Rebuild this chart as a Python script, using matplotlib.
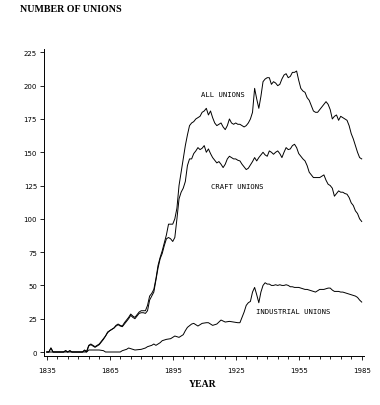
import numpy as np
import matplotlib
matplotlib.use("Agg")
import matplotlib.pyplot as plt
from matplotlib.ticker import MultipleLocator


# Data (year, number of unions)
all_years = [1835, 1836, 1837, 1838, 1843, 1844, 1845, 1846, 1847, 1852, 1853, 1854,
             1855, 1856, 1857, 1858, 1859, 1860, 1861, 1862, 1863, 1864, 1865, 1866,
             1867, 1868, 1869, 1870, 1871, 1872, 1873, 1874, 1875, 1876, 1877, 1878,
             1879, 1880, 1881, 1882, 1883, 1884, 1885, 1886, 1887, 1888, 1889, 1890,
             1891, 1892, 1893, 1894, 1895, 1896, 1897, 1898, 1899, 1900, 1901, 1902,
             1903, 1904, 1905, 1906, 1907, 1908, 1909, 1910, 1911, 1912, 1913, 1914,
             1915, 1916, 1917, 1918, 1919, 1920, 1921, 1922, 1923, 1924, 1925, 1926,
             1927, 1928, 1929, 1930, 1931, 1932, 1933, 1934, 1935, 1936, 1937, 1938,
             1939, 1940, 1941, 1942, 1943, 1944, 1945, 1946, 1947, 1948, 1949, 1950,
             1951, 1952, 1953, 1954, 1955, 1956, 1957, 1958, 1959, 1960, 1961, 1962,
             1963, 1964, 1965, 1966, 1967, 1968, 1969, 1970, 1971, 1972, 1973, 1974,
             1975, 1976, 1977, 1978, 1979, 1980, 1981, 1982, 1983, 1984, 1985]
all_unions = [0, 0, 3, 0, 0, 1, 0, 1, 0, 0, 1.5, 0.5,
              5, 6, 5, 4, 5, 6, 8, 10, 12, 15, 16, 17,
              18, 20, 21, 20, 19.5, 22, 24, 26, 28.5, 27, 26, 28,
              30, 31, 31, 31, 35, 42, 44, 47, 55, 65, 71, 76,
              82, 88, 96, 96, 96, 100, 108, 125, 135, 145, 155, 163,
              170, 172, 173, 175, 176, 177, 180, 181, 183, 178, 181, 176,
              172, 170, 171, 172, 169, 167, 170, 175, 172, 171, 172, 171,
              171, 170, 169, 170, 172, 175, 180, 198, 190, 183, 192, 203,
              205, 206, 206, 201, 203, 202, 200, 201, 205, 208, 209, 206,
              207, 210, 210, 211, 204, 198, 196, 195, 191, 189, 185, 181,
              180, 180, 182, 184, 186, 188, 186, 182, 175, 177, 178, 174,
              177, 176, 175, 174, 170, 164, 160, 155, 150, 146, 145]

craft_unions = [0, 0, 3, 0, 0, 1, 0, 1, 0, 0, 1, 0,
                4.5, 5.5, 4.5, 3.5, 4.5, 5.5, 7.5, 9.5, 12, 14.5, 16, 17,
                18, 19.5, 20.5, 19.5, 19, 21, 23, 25, 27.5, 26, 25, 27,
                29, 29.5, 29.5, 29, 31, 39, 42, 45, 54, 63, 70, 74,
                80, 85, 86, 85, 83, 86, 100, 115, 120, 123, 128, 140,
                145, 145, 149, 151, 153.5, 152, 153, 155, 150, 152.5, 149, 146,
                144, 142, 143, 141, 138.5, 141, 145, 147, 146, 145, 145, 144,
                143.5, 141, 139, 137, 138, 140.5, 143, 146, 143.5, 146, 148, 150,
                148, 147, 151, 150, 148.5, 150, 151, 149, 146, 150, 153.5, 152,
                152.5, 155, 156, 153.5, 149, 147, 145, 143.5, 140, 135, 133, 131,
                131, 131, 131, 132, 133, 129, 126, 125, 123, 117, 119, 121,
                120, 120, 119, 118.5, 116, 112, 110, 106, 104, 100, 98]

ind_years = [1835, 1854, 1855, 1860, 1862, 1863, 1870, 1871, 1872, 1873, 1874, 1875,
             1877, 1880, 1882, 1883, 1885, 1886, 1887, 1889, 1890, 1892, 1894, 1896,
             1898, 1900, 1901, 1902, 1904, 1905, 1907, 1909, 1911, 1912, 1914, 1916,
             1918, 1920, 1922, 1924, 1926, 1927, 1928, 1929, 1930, 1931, 1932, 1933,
             1934, 1935, 1936, 1937, 1938, 1939, 1940, 1941, 1942, 1943, 1944, 1945,
             1946, 1947, 1948, 1949, 1950, 1951, 1952, 1953, 1954, 1955, 1956, 1957,
             1958, 1959, 1960, 1961, 1962, 1963, 1964, 1965, 1966, 1967, 1968, 1969,
             1970, 1971, 1972, 1973, 1974, 1975, 1976, 1977, 1978, 1979, 1980, 1981,
             1982, 1983, 1984, 1985]
industrial_unions = [0, 0, 1.5, 1.5, 1, 0, 0, 1, 1.5, 2, 3, 2.5,
                     1.5, 2, 3, 4, 5, 6, 5, 7, 8.5, 9.5, 10, 12,
                     11, 13, 16, 18.5, 21, 21.5, 19.5, 21.5, 22, 22, 20, 21,
                     24, 22.5, 23, 22.5, 22, 22, 26, 30, 35, 37, 38, 45,
                     48.5, 43, 37, 45, 50, 52, 51, 51, 50, 50, 50.5, 50,
                     50.5, 50, 50, 50.5, 50, 49, 49, 48.5, 48.5, 48.5, 48, 47.5,
                     47, 47, 46.5, 46, 45.5, 45, 46, 47, 47, 47, 47.5, 48,
                     48, 46.5, 45.5, 45.5, 45.5, 45, 45, 44.5, 44, 43.5, 43, 42.5,
                     42, 41, 39, 37.5]

x_tick_labels = [1835, 1865, 1895, 1925, 1955, 1985]
y_tick_labels = [0, 25, 50, 75, 100, 125, 150, 175, 200, 225]


fig = plt.figure(figsize=(3.8, 4.06), dpi=100)
ax = fig.add_axes([0.1158, 0.1207, 0.8416, 0.756])

ax.plot(all_years, all_unions, color='black', linewidth=0.7)
ax.plot(all_years, craft_unions, color='black', linewidth=0.7)
ax.plot(ind_years, industrial_unions, color='black', linewidth=0.7)

ax.set_xlim(1833.7, 1986)
ax.set_ylim(-3, 227.5)

ax.spines['top'].set_visible(False)
ax.spines['right'].set_visible(False)
ax.spines['left'].set_linewidth(0.7)
ax.spines['bottom'].set_linewidth(0.7)

ax.set_xticks(x_tick_labels)
ax.xaxis.set_minor_locator(MultipleLocator(5))
ax.set_yticks(y_tick_labels)
ax.tick_params(axis='both', which='major', direction='out', length=3, width=0.6,
               labelsize=5, pad=5)
ax.tick_params(axis='x', which='minor', direction='out', length=2, width=0.6)
ax.tick_params(axis='y', which='major', pad=2)

# series labels
lab_font = dict(family='DejaVu Sans Mono', fontsize=5.2, ha='center', va='center')
ax.text(1918.7, 193.5, "ALL UNIONS", **lab_font)
ax.text(1925.6, 124.8, "CRAFT UNIONS", **lab_font)
ax.text(1952.3, 31, "INDUSTRIAL UNIONS", **lab_font)

fig.text(20 / 380, 1 - 9.5 / 406, "NUMBER OF UNIONS", family='Liberation Serif',
         fontweight='bold', fontsize=7.2, ha='left', va='center')
fig.text(203 / 380, 1 - 385 / 406, "YEAR", family='Liberation Serif',
         fontweight='bold', fontsize=7, ha='center', va='center')

fig.savefig("out.png", dpi=100)
